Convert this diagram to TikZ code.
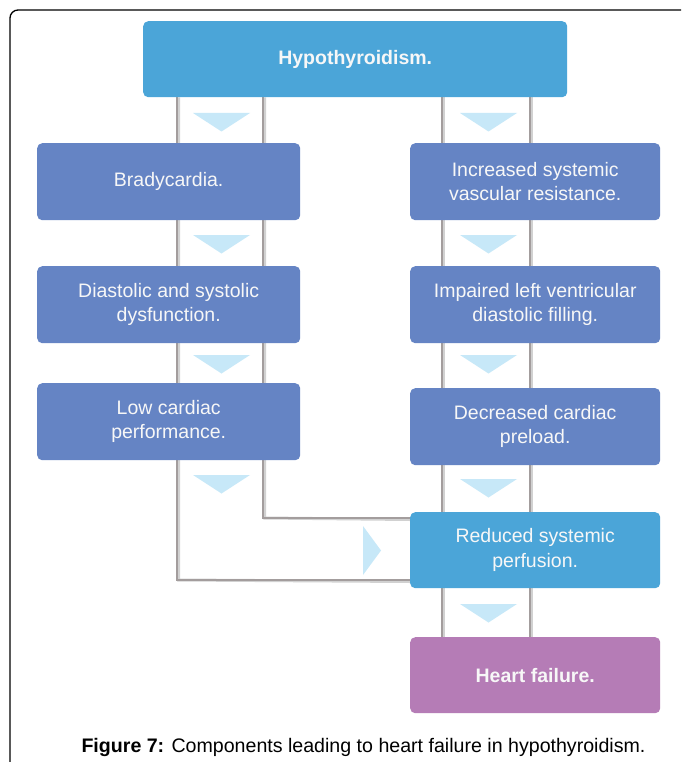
\documentclass[tikz,border=0pt]{standalone}
\usepackage{fontspec}
\setmainfont{Liberation Sans}
\pgfdeclarelayer{background}
\pgfsetlayers{background,main}
\begin{document}
\begin{tikzpicture}[x=1pt,y=-1pt,
  boxbase/.style={rectangle, rounded corners=5pt, inner sep=0pt, align=center,
    text=white!94!gray, font=\fontsize{19.5}{24.5}\selectfont, anchor=north west},
  boldtext/.style={font=\fontsize{19.5}{24.5}\selectfont\bfseries},
  leftbox/.style={boxbase, fill=slate, minimum width=263pt, minimum height=77pt},
  rightbox/.style={boxbase, fill=slate, minimum width=250pt, minimum height=77pt},
  rail/.style={draw=railgray, line width=2.6pt},
  railshadow/.style={draw=black!18, line width=3pt},
  tri/.style={fill=trifill, draw=none}]
\definecolor{hypoblue}{HTML}{4BA5D8}
\definecolor{slate}{HTML}{6584C4}
\definecolor{heartpink}{HTML}{B57CB6}
\definecolor{trifill}{HTML}{C7E8F8}
\definecolor{railgray}{HTML}{A39D9D}
\useasboundingbox (0,0) rectangle (681,762);
\clip (0,0) rectangle (681,762);
\begin{pgfonlayer}{background}
\fill[white] (0,0) rectangle (681,762);
\end{pgfonlayer}
% frame
\draw[line width=1.3pt, rounded corners=8pt] (10,790) -- (10,10) -- (700,10);

% rail anchor coordinates
\coordinate (L1) at (177,0);
\coordinate (L2) at (263,0);
\coordinate (R1) at (442,0);
\coordinate (R2) at (530,0);
\coordinate (yA) at (0,580);
\coordinate (yB) at (0,518);

% boxes (placed by top-left corner)
\node[boxbase, fill=hypoblue, boldtext, minimum width=424pt, minimum height=76pt] (hypo) at (143,21) {Hypothyroidism.};

\node[leftbox] (brady) at (37,143) {Bradycardia.};
\node[leftbox] (diast) at (37,266) {Diastolic and systolic\\dysfunction.};
\node[leftbox] (lowc) at (37,383) {Low cardiac\\performance.};

\node[rightbox] (incr) at (410,143) {Increased systemic\\vascular resistance.};
\node[rightbox] (impair) at (410,266) {Impaired left ventricular\\diastolic filling.};
\node[rightbox] (decr) at (410,388) {Decreased cardiac\\preload.};
\node[rightbox, fill=hypoblue, minimum height=76pt] (reduced) at (410,512) {Reduced systemic\\perfusion.};
\node[rightbox, fill=heartpink, boldtext, minimum height=76pt] (heart) at (410,637) {Heart failure.};

% rails behind the boxes
\begin{pgfonlayer}{background}
\draw[railshadow] ([xshift=1.5pt]L1 |- hypo.south) -- ([xshift=1.5pt]L1 |- yA) -- ([yshift=-1.5pt]reduced.west |- yA);
\draw[railshadow] ([xshift=1.5pt]L2 |- hypo.south) -- ([xshift=1.5pt]L2 |- yB) -- ([yshift=-1.5pt]reduced.west |- yB);
\draw[railshadow] ([xshift=1.5pt]R1 |- hypo.south) -- ([xshift=1.5pt]R1 |- heart.north);
\draw[railshadow] ([xshift=1.5pt]R2 |- hypo.south) -- ([xshift=1.5pt]R2 |- heart.north);
\draw[rail] (L1 |- hypo.south) -- (L1 |- yA) -- (reduced.west |- yA);
\draw[rail] (L2 |- hypo.south) -- (L2 |- yB) -- (reduced.west |- yB);
\draw[rail] (R1 |- hypo.south) -- (R1 |- heart.north);
\draw[rail] (R2 |- hypo.south) -- (R2 |- heart.north);
\end{pgfonlayer}

% triangles (down)
\foreach \cx/\ty in {221.5/113, 221.5/235, 221.5/355, 221.5/475, 488.5/113, 488.5/235, 488.5/355, 488.5/479, 488.5/604}{
  \fill[tri] (\cx-28.5,\ty) -- (\cx+28.5,\ty) -- (\cx,\ty+18.5) -- cycle;
}
% triangle (right)
\fill[tri] (363,526) -- (381,550.5) -- (363,575) -- cycle;

% caption
\node[font=\fontsize{19.6}{23}\selectfont, anchor=base] (cap) at (363.5,752) {\textbf{Figure 7:} Components leading to heart failure in hypothyroidism.};
\end{tikzpicture}
\end{document}
